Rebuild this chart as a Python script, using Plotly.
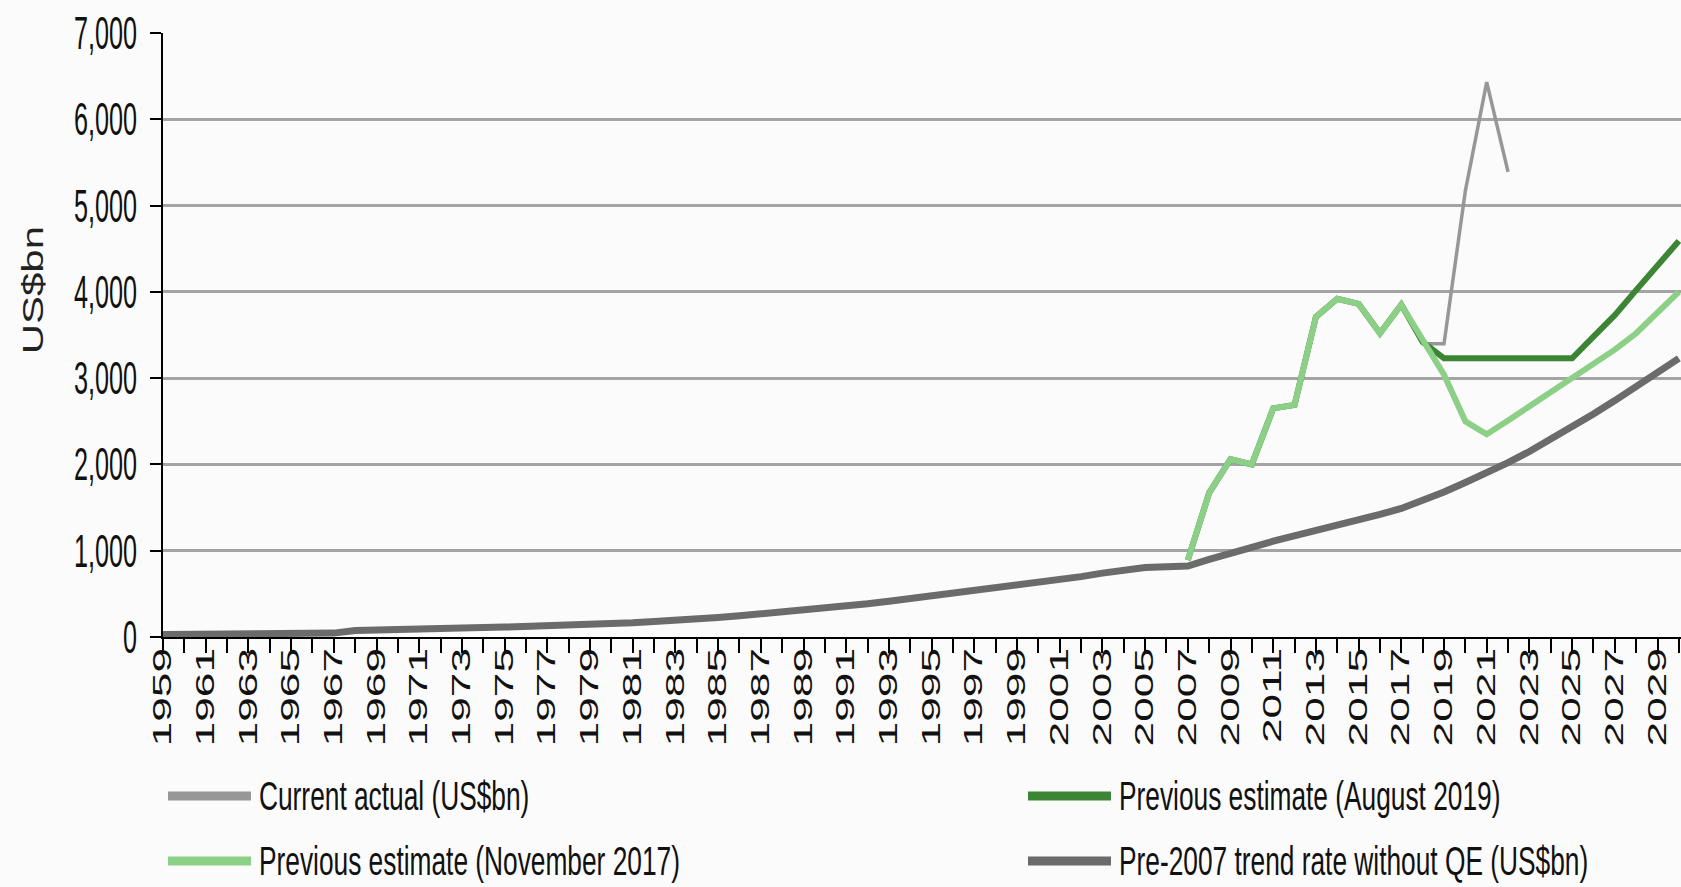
import plotly.graph_objects as go

# ---------------- data ----------------
trend_years = list(range(1959, 2031))
trend_vals = [30, 30, 30, 30, 32, 35, 38, 40, 45,            # 1959-1967
              75, 78, 80, 82, 85, 90,                         # 1968-1973
              110, 115, 120, 130, 145, 150,                   # 1974-1979
              155, 165, 180, 190, 200, 225,                   # 1980-1985
              245, 265, 285, 310, 330, 355,                   # 1986-1991
              385, 415, 445, 475, 505, 535,                   # 1992-1997
              565, 600, 625, 660, 700, 740,                   # 1998-2003
              780, 805, 815, 822,                             # 2004-2007
              900, 960, 1040, 1110, 1170, 1220, 1300, 1360,   # 2008-2015
              1420, 1490, 1580, 1680, 1790, 1900, 2020, 2150, # 2016-2023
              2290, 2440, 2585, 2740, 2900, 3060, 3230]       # 2024-2030

est_years = list(range(2007, 2031))
nov2017_vals = [890, 1670, 2060, 2000, 2650, 2690, 3710, 3920, 3860, 3520, 3850,
                3450, 3040, 2500, 2350, 2510, 2670, 2830, 3000, 3170, 3330, 3520, 3750, 4000]
aug2019_vals = [890, 1670, 2060, 2000, 2650, 2690, 3710, 3920, 3860, 3520, 3850,
                3420, 3230, 3230, 3230, 3230, 3230, 3230, 3230, 3480, 3730, 4020, 4300, 4590]

actual_years = [2018, 2019, 2020, 2021, 2022]
actual_vals = [3400, 3400, 5170, 6430, 5390]

tick_years = list(range(1959, 2031, 2))
tick_labels = [str(y) for y in tick_years]
y_ticks = [0, 1000, 2000, 3000, 4000, 5000, 6000, 7000]

names = ["Current actual (US$bn)", "Previous estimate (August 2019)",
         "Previous estimate (November 2017)", "Pre-2007 trend rate without QE (US$bn)"]

# ---------------- style ----------------
C_ACTUAL = "#979797"
C_AUG = "#3c8534"
C_NOV = "#8ccf86"
C_TREND = "#6b6b6b"
BG = "#fbfbfb"
NARROW = "Liberation Sans, Arial, sans-serif"
REG = "Liberation Sans, Arial, sans-serif"

W, H = 1681, 887
L, T, PW, PH = 163, 33, 1518, 604


def pxx(x):
    return (x - L) / PW


def pxy(y):
    return (T + PH - y) / PH


fig = go.Figure()
fig.add_trace(go.Scatter(x=trend_years, y=trend_vals, mode="lines", name=names[3],
                         line=dict(color=C_TREND, width=7)))
fig.add_trace(go.Scatter(x=actual_years, y=actual_vals, mode="lines", name=names[0],
                         line=dict(color=C_ACTUAL, width=3.5)))
fig.add_trace(go.Scatter(x=est_years, y=aug2019_vals, mode="lines", name=names[1],
                         line=dict(color=C_AUG, width=6)))
fig.add_trace(go.Scatter(x=est_years, y=nov2017_vals, mode="lines", name=names[2],
                         line=dict(color=C_NOV, width=6)))

# manual legend (2 columns x 2 rows, as in the reference)
legend_items = [(names[0], C_ACTUAL, 0, 0), (names[1], C_AUG, 1, 0),
                (names[2], C_NOV, 0, 1), (names[3], C_TREND, 1, 1)]
col_x0 = [168, 1028]
col_x1 = [251, 1111]
col_tx = [257, 1117]
row_y = [796, 861]
shapes = []
annotations = []
for name, color, c, r in legend_items:
    shapes.append(dict(type="line", xref="paper", yref="paper",
                       x0=pxx(col_x0[c]), x1=pxx(col_x1[c]), y0=pxy(row_y[r]), y1=pxy(row_y[r]),
                       line=dict(color=color, width=9)))
    annotations.append(dict(xref="paper", yref="paper", x=pxx(col_tx[c]), y=pxy(row_y[r]),
                            xanchor="left", yanchor="middle", showarrow=False, text=name,
                            font=dict(family=NARROW, size=26.3, color="#111111")))

annotations.append(dict(xref="paper", yref="paper", x=pxx(32), y=pxy(290), text="US$bn",
                        textangle=-90, showarrow=False, xanchor="center", yanchor="middle",
                        font=dict(family=REG, size=30, color="#222222")))

fig.update_layout(
    width=W, height=H, autosize=False,
    margin=dict(l=L, r=W - L - PW, t=T, b=H - T - PH, pad=0),
    paper_bgcolor=BG, plot_bgcolor=BG,
    showlegend=False,
    shapes=shapes, annotations=annotations,
    xaxis=dict(range=[1959, 2030.1], tickmode="array", tickvals=tick_years, ticktext=tick_labels,
               tickangle=-90, ticks="outside", ticklen=14, tickwidth=2, tickcolor="black",
               minor=dict(tick0=1959, dtick=1, ticks="outside", ticklen=14, tickwidth=2,
                          tickcolor="black", showgrid=False),
               showline=True, linecolor="black", linewidth=2, showgrid=False, zeroline=False,
               tickfont=dict(family=NARROW, size=25, color="#111111"),
               ticklabelstandoff=-15, automargin=False),
    yaxis=dict(range=[0, 7000], tickmode="array", tickvals=y_ticks, tickformat=",",
               ticks="outside", ticklen=11, tickwidth=2, tickcolor="black",
               showline=True, linecolor="black", linewidth=2,
               showgrid=True, gridcolor="#a4a4a4", gridwidth=3, zeroline=False,
               tickfont=dict(family=NARROW, size=25.2, color="#111111"),
               ticklabelstandoff=8, automargin=False),
)

post = """
document.body.style.margin='0';
document.body.style.overflow='hidden';
var gd=document.getElementById('{plot_id}');
function st(el,sx,sy,mode){
  var t=el.getAttribute('transform')||'';
  if(t.indexOf('scale(')>=0) return;
  var bb=el.getBBox();
  var px=(mode==='end')?(bb.x+bb.width):(bb.x+bb.width/2);
  var py=bb.y+bb.height/2;
  el.setAttribute('transform', t+' translate('+px+','+py+') scale('+sx+','+sy+') translate('+(-px)+','+(-py)+')');
}
function applyStretch(){
  gd.querySelectorAll('g.ytick text').forEach(function(e){st(e,1,1.8,'mid');});
  gd.querySelectorAll('g.xtick text').forEach(function(e){st(e,1.77,1,'end');});
  gd.querySelectorAll('text.annotation-text').forEach(function(e){
    if(e.textContent==='US$bn'){st(e,1.4,1,'mid');} else {st(e,1,1.56,'mid');}
  });
}
applyStretch();
gd.on('plotly_afterplot', applyStretch);
"""

fig.write_html("out.html", post_script=post, config={"displayModeBar": False})
